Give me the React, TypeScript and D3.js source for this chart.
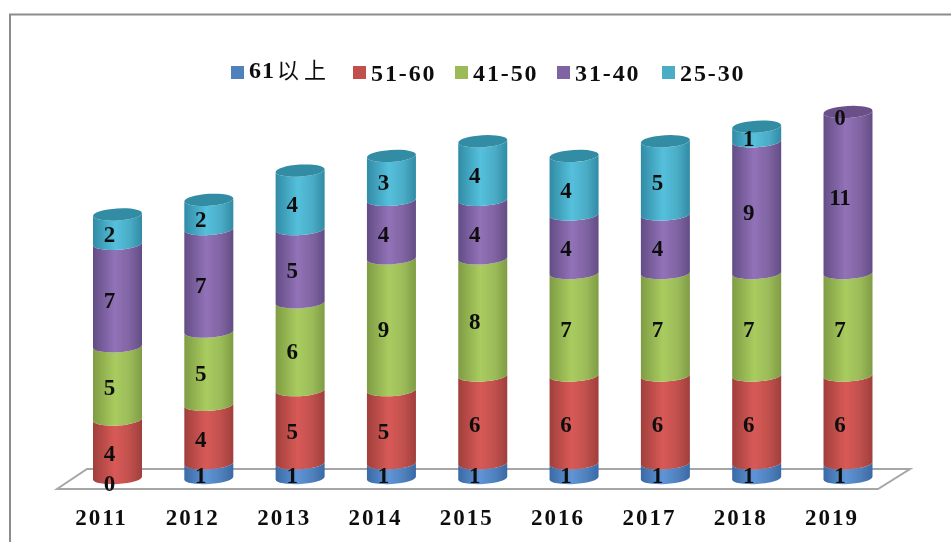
import React from "react";
import * as d3 from "d3";

const width = 951;
const height = 542;

const years = ["2011", "2012", "2013", "2014", "2015", "2016", "2017", "2018", "2019"];
const seriesNames = ["61以上", "51-60", "41-50", "31-40", "25-30"];
const age61 = [0, 1, 1, 1, 1, 1, 1, 1, 1];
const age51 = [4, 4, 5, 5, 6, 6, 6, 6, 6];
const age41 = [5, 5, 6, 9, 8, 7, 7, 7, 7];
const age31 = [7, 7, 5, 4, 4, 4, 4, 9, 11];
const age25 = [2, 2, 4, 3, 4, 4, 5, 1, 0];
const colors = ["#4f81bd", "#c0504d", "#9bbb59", "#8064a2", "#4bacc6"];
const edgeColors = ["#3a6aa5", "#a03f3c", "#7f9c44", "#634d85", "#318ba5"];
const lightColors = ["#5f94d6", "#d85a57", "#a9cc5f", "#9272b8", "#55c0dc"];
const capColors = ["#3f6a9c", "#9c4240", "#7f9a48", "#6a5088", "#338ca3"];

const rows = d3.zip(age61, age51, age41, age31, age25);
const stacked = d3.stack<number[]>()
  .keys(seriesNames.map((_, i) => String(i)))
  .value((d, key) => d[+key])(rows);

const x = d3.scalePoint<string>().domain(years).range([117.5, 848]);
const y = d3.scaleLinear().domain([0, 25]).range([484, 118]);

const rx = 24.5;
const ry = 6;
const tilt = 1.5;
const tiltDeg = (Math.atan2(tilt, rx) * 180) / Math.PI;

// front face of one cylinder piece, both edges are the front half of the ellipse
function segmentPath(cx: number, y0: number, y1: number) {
  const low = y0 - ry;
  const high = y1 - ry;
  return `M${cx - rx},${low + tilt}A${rx},${ry} ${-tiltDeg} 0 0 ${cx + rx},${low - tilt}` +
    `L${cx + rx},${high - tilt}A${rx},${ry} ${-tiltDeg} 0 1 ${cx - rx},${high + tilt}Z`;
}

const serif = "'Liberation Serif', 'Times New Roman', serif";
const floor = [[57, 489], [87, 469], [910, 469], [878, 489]];

const legendX = [231, 353, 455, 557, 662];

export default function App() {
  return (
    <svg
      width={width}
      height={height}
      style={{position: "absolute", left: 0, top: 0, background: "#fff"}}
      fontFamily={serif}
    >
      <defs>
        {colors.map((c, i) => (
          <linearGradient key={i} id={`cyl${i}`} x1="0" x2="1" y1="0" y2="0">
            <stop offset="0" stopColor={edgeColors[i]} />
            <stop offset="0.45" stopColor={lightColors[i]} />
            <stop offset="0.75" stopColor={c} />
            <stop offset="1" stopColor={edgeColors[i]} />
          </linearGradient>
        ))}
        <filter id="soft" x="-5%" y="-5%" width="110%" height="110%">
          <feGaussianBlur stdDeviation="0.55" />
        </filter>
      </defs>

      <g filter="url(#soft)">
        <path d="M10,542V14.5H951" fill="none" stroke="#8c8c8c" strokeWidth={2} />
        <path d={d3.line()(floor as [number, number][]) + "Z"} fill="#fff" stroke="#a6a6a6" strokeWidth={2} />

        {years.map((year, i) => {
          const cx = x(year)!;
          const top = stacked.filter(s => s[i][1] > s[i][0]).pop()!;
          const topY = y(top[i][1]) - ry;
          return (
            <g key={year}>
              {stacked.map((s, k) =>
                s[i][1] > s[i][0] ? (
                  <path key={k} d={segmentPath(cx, y(s[i][0]), y(s[i][1]))} fill={`url(#cyl${k})`} />
                ) : null
              )}
              <ellipse
                cx={cx}
                cy={topY}
                rx={rx}
                ry={ry}
                transform={`rotate(${-tiltDeg} ${cx} ${topY})`}
                fill={capColors[top.index]}
              />
            </g>
          );
        })}

        {years.map((year, i) =>
          stacked.map((s, k) => {
            const v = s[i][1] - s[i][0];
            return (
              <text
                key={year + k}
                x={x(year)! - 8}
                y={(y(s[i][0]) + y(s[i][1])) / 2 - 1}
                textAnchor="middle"
                dominantBaseline="central"
                fontSize={23}
                fontWeight="bold"
                fill="#111"
              >
                {v}
              </text>
            );
          })
        )}

        {years.map(year => (
          <text
            key={year}
            x={x(year)! - 16}
            y={525}
            textAnchor="middle"
            fontSize={23}
            fontWeight="bold"
            letterSpacing={2}
            fill="#111"
          >
            {year}
          </text>
        ))}

        {seriesNames.map((name, i) => (
          <g key={name}>
            <rect x={legendX[i]} y={66} width={13} height={13} fill={colors[i]} />
            {i === 0 ? (
              <text x={legendX[i] + 18} y={78} fontSize={24} fontWeight="bold" letterSpacing={1} fill="#111">
                {name.slice(0, 2)}
                <tspan
                  fontFamily="'Noto Sans CJK SC'"
                  fontWeight={400}
                  fontSize={22}
                  letterSpacing={5}
                  dx={2}
                >
                  {name.slice(2)}
                </tspan>
              </text>
            ) : (
              <text x={legendX[i] + 18} y={81} fontSize={24} fontWeight="bold" letterSpacing={1.9} fill="#111">
                {name}
              </text>
            )}
          </g>
        ))}
      </g>
    </svg>
  );
}
